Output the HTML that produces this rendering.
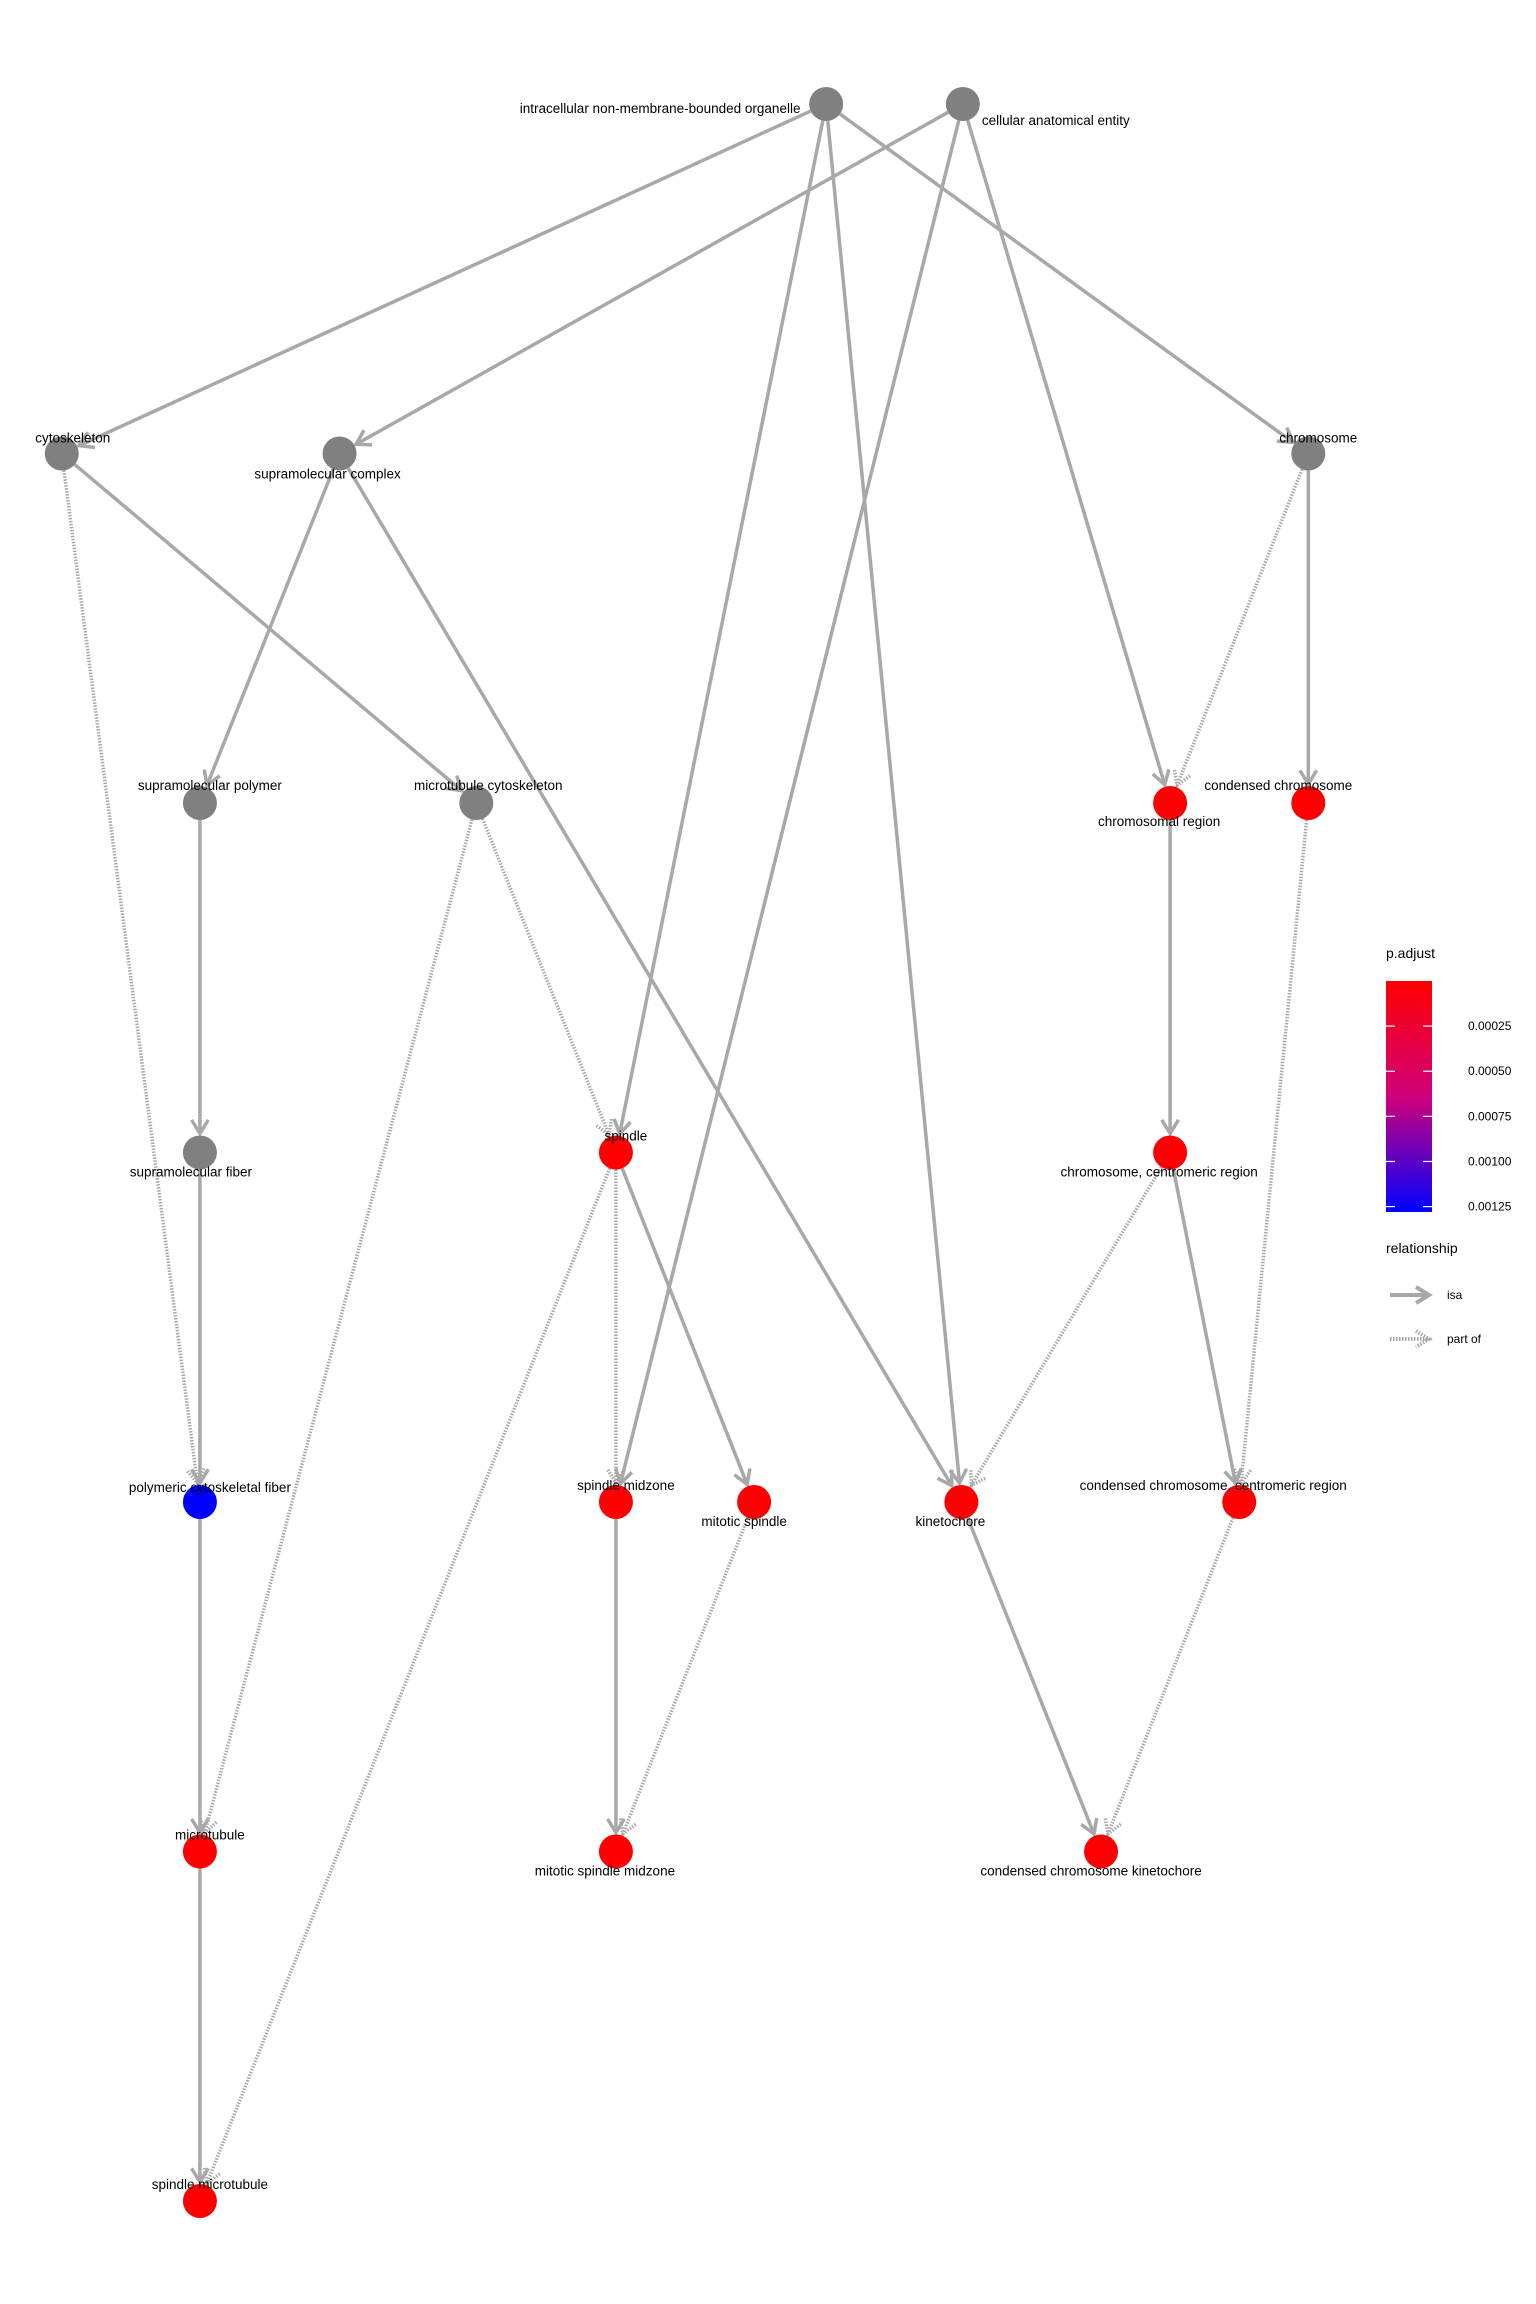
<!DOCTYPE html>
<html><head><meta charset="utf-8"><style>
html,body{margin:0;padding:0;background:#fff}
svg{display:block}
text{font-family:"Liberation Sans",sans-serif;fill:#000}
</style></head><body>
<svg id="chart" width="1536" height="2304" viewBox="0 0 1536 2304" xmlns="http://www.w3.org/2000/svg">
<defs>
<linearGradient id="grad" x1="0" y1="0" x2="0" y2="1">
<stop offset="0" stop-color="#ff0000"/><stop offset="0.5" stop-color="#d0007a"/><stop offset="1" stop-color="#0000ff"/>
</linearGradient>
</defs>
<g id="edges"></g>
<g id="nodes"></g>
<g id="labels"></g>
<g id="legend">
<text x="1386" y="958" font-size="14">p.adjust</text>
<rect x="1386" y="981" width="46" height="231" fill="url(#grad)"/>
<g id="cbticks"></g>
<text x="1386" y="1253" font-size="14">relationship</text>
<g>
<line x1="1390" y1="1295" x2="1428" y2="1295" stroke="#a8a8a8" stroke-width="4"/>
<polyline points="1416,1287 1429,1295 1416,1303" fill="none" stroke="#a8a8a8" stroke-width="4"/>
<text x="1447" y="1299" font-size="12">isa</text>
</g>
<g>
<line x1="1390" y1="1339" x2="1428" y2="1339" stroke="#a8a8a8" stroke-width="4" stroke-dasharray="1.5 1.5"/>
<polyline points="1416,1331 1429,1339 1416,1347" fill="none" stroke="#a8a8a8" stroke-width="4" stroke-dasharray="1.5 1.5"/>
<text x="1447" y="1343" font-size="12">part of</text>
</g>
</g>
</svg>
<script>
const nodeNames = ["intracellular non-membrane-bounded organelle","cellular anatomical entity","cytoskeleton","supramolecular complex","chromosome","supramolecular polymer","microtubule cytoskeleton","chromosomal region","condensed chromosome","supramolecular fiber","spindle","chromosome, centromeric region","polymeric cytoskeletal fiber","spindle midzone","mitotic spindle","kinetochore","condensed chromosome, centromeric region","microtubule","mitotic spindle midzone","condensed chromosome kinetochore","spindle microtubule"];
const nodeLevel = [0,0,1,1,1,2,2,2,2,3,3,3,4,4,4,4,4,5,5,5,6];
const nodeCol = [5.62,6.55,0.42,2.31,8.9,1.36,3.24,7.96,8.9,1.36,4.19,7.96,1.36,4.19,5.13,6.54,8.43,1.36,4.19,7.49,1.36];
const nodePadj = [null,null,null,null,null,null,null,0.00001,0.00001,null,0.00001,0.00001,0.00128,0.00001,0.00001,0.00001,0.00001,0.00001,0.00001,0.00001,0.00001];
const labelDx = [-166,93,11,-12,10,10,12,-11,-30,-9,10,-11,10,10,-10,-11,-26,10,-11,-10,10];
const labelDy = [4,16,-16,20,-16,-18,-18,18,-18,19,-17,19,-15,-17,19,19,-17,-17,19,19,-17];
const edgeFrom = [0,0,0,0,1,1,1,2,2,3,3,4,4,5,9,6,6,7,8,10,10,10,11,11,12,13,14,15,16,17];
const edgeTo =   [2,4,10,15,3,7,13,12,6,5,15,7,8,9,12,10,17,11,16,13,14,20,15,16,17,18,18,19,19,20];
const edgeType = ["isa","isa","isa","isa","isa","isa","isa","part","isa","isa","isa","part","isa","isa","isa","part","part","isa","part","part","isa","part","part","isa","isa","isa","part","isa","part","isa"];
const cbTicks = [0.00025,0.00050,0.00075,0.00100,0.00125];
const cbTickLabels = ["0.00025","0.00050","0.00075","0.00100","0.00125"];

const NS="http://www.w3.org/2000/svg";
const xScale = c => c*147;
const yScale = l => 104 + l*349.5;
const cbMin=0, cbMax=0.00128, cbTop=981, cbBot=1212;
const cbY = v => cbTop + (v-cbMin)/(cbMax-cbMin)*(cbBot-cbTop);
function colorFor(v){
  if(v===null) return "#808080";
  const t=Math.max(0,Math.min(1,(v-cbMin)/(cbMax-cbMin)));
  const r=Math.round(255*(1-t)), b=Math.round(255*t);
  return `rgb(${r},0,${b})`;
}
function mk(tag,attrs){const e=document.createElementNS(NS,tag);for(const k in attrs)e.setAttribute(k,attrs[k]);return e;}
const slug=s=>s.toLowerCase().replace(/[^a-z0-9]+/g,'-').replace(/^-|-$/g,'');
const R=17;
const eg=document.getElementById('edges'), ng=document.getElementById('nodes'), lg=document.getElementById('labels');
edgeFrom.forEach((f,i)=>{
  const t=edgeTo[i];
  const x1=xScale(nodeCol[f]), y1=yScale(nodeLevel[f]);
  const x2=xScale(nodeCol[t]), y2=yScale(nodeLevel[t]);
  const dx=x2-x1, dy=y2-y1, L=Math.hypot(dx,dy), ux=dx/L, uy=dy/L;
  const ex=x2-ux*(R+2), ey=y2-uy*(R+2);
  const sx=x1+ux*R, sy=y1+uy*R;
  const g=mk('g',{});
  
  
  const dash = edgeType[i]==="part" ? {"stroke-dasharray":"1.5 1.5"} : {};
  const sw = 3.5;
  g.appendChild(mk('line',Object.assign({x1:sx,y1:sy,x2:ex,y2:ey,stroke:"#a8a8a8","stroke-width":sw},dash)));
  const a=0.55, h=16;
  const px1=ex-h*(ux*Math.cos(a)-uy*Math.sin(a)), py1=ey-h*(uy*Math.cos(a)+ux*Math.sin(a));
  const px2=ex-h*(ux*Math.cos(a)+uy*Math.sin(a)), py2=ey-h*(uy*Math.cos(a)-ux*Math.sin(a));
  g.appendChild(mk('polyline',Object.assign({points:`${px1},${py1} ${ex},${ey} ${px2},${py2}`,fill:"none",stroke:"#a8a8a8","stroke-width":sw},dash)));
  eg.appendChild(g);
});
nodeNames.forEach((n,i)=>{
  const cx=xScale(nodeCol[i]), cy=yScale(nodeLevel[i]);
  const c=mk('circle',{cx:cx,cy:cy,r:R,fill:colorFor(nodePadj[i])});
  
  
  ng.appendChild(c);
  const t=mk('text',{x:cx+labelDx[i],y:cy+labelDy[i]+5,"font-size":13.5,"text-anchor":"middle"});
  
  
  t.textContent=n;
  lg.appendChild(t);
});
const tg=document.getElementById('cbticks');
cbTicks.forEach((v,i)=>{
  const y=cbY(v);
  const g=mk('g',{});
  
  
  g.appendChild(mk('line',{x1:1386,x2:1395,y1:y,y2:y,stroke:"#fff","stroke-width":1.2}));
  g.appendChild(mk('line',{x1:1423,x2:1432,y1:y,y2:y,stroke:"#fff","stroke-width":1.2}));
  const t=mk('text',{x:1468,y:y+4,"font-size":12});
  t.textContent=cbTickLabels[i];
  g.appendChild(t);
  tg.appendChild(g);
});
</script>
</body></html>
